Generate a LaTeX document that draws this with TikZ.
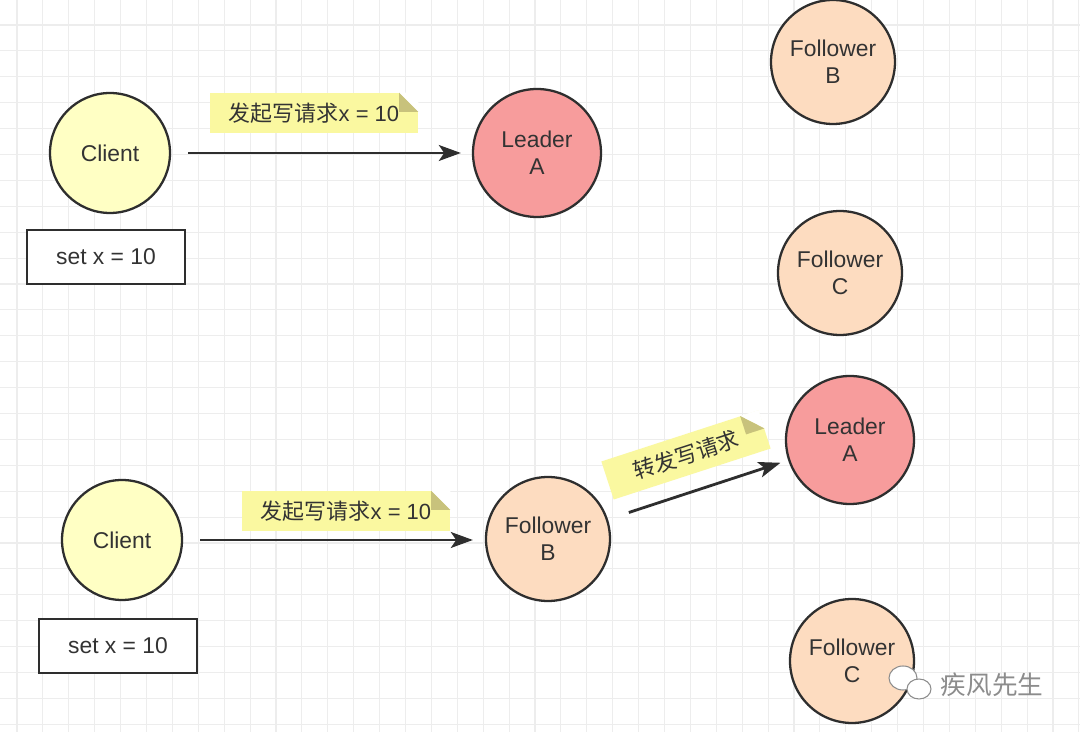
\documentclass[tikz,border=0pt]{standalone}
\usepackage{fontspec}
\setmainfont{Liberation Sans}
\newfontfamily\cjk{Noto Sans CJK SC}
\usepackage{xcolor}
\usetikzlibrary{calc, arrows.meta}

\definecolor{clientyellow}{HTML}{FFFFC4}
\definecolor{leaderred}{HTML}{F79C9C}
\definecolor{followerpeach}{HTML}{FDDCC0}
\definecolor{noteyellow}{HTML}{FAF8A0}
\definecolor{notefold}{HTML}{C8C27C}
\definecolor{inkdark}{HTML}{2E2E2E}
\definecolor{textdark}{HTML}{333333}
\definecolor{gridgray}{HTML}{EDEDED}
\definecolor{markgray}{HTML}{8C8C8C}

\tikzset{
  server/.style={circle, draw=inkdark, line width=1.3pt, text=textdark,
    align=center, inner sep=0pt, font=\fontsize{13}{15.5}\selectfont},
  client/.style={server, fill=clientyellow, minimum size=2.4cm},
  leader/.style={server, fill=leaderred, minimum size=2.56cm},
  follower/.style={server, fill=followerpeach, minimum size=2.48cm},
  valuebox/.style={draw=inkdark, line width=1.4pt, fill=white, text=textdark,
    minimum width=3.16cm, minimum height=1.08cm, font=\fontsize{13}{15.5}\selectfont},
  note/.style={fill=noteyellow, text=textdark, inner sep=0pt,
    minimum height=0.8cm, font=\fontsize{12.5}{15}\selectfont},
  request/.style={draw=inkdark, line width=1.6pt,
    -{Stealth[length=12.5pt, width=9pt, inset=3pt]}},
  gridline/.style={draw=gridgray, line width=0.6pt},
}

% folded top right corner of a note
\newcommand{\foldcorner}[1]{%
  \coordinate (#1-a) at ($(#1.north east)!11pt!(#1.north west)$);
  \coordinate (#1-b) at ($(#1.north east)!11pt!(#1.south east)$);
  \fill[white] (#1-a) -- (#1.north east) -- (#1-b) -- cycle;
  \fill[notefold] (#1-a) -- (#1-b) -- ($(#1-a)!11pt!-90:(#1.north east)$) -- cycle;
}

\begin{document}
\begin{tikzpicture}[x=0.02cm, y=-0.02cm]

    % =================================================================
    % 1. BACKGROUND AND GRID
    % =================================================================
    \useasboundingbox (0,0) rectangle (1080,732);
    \fill[white] (0,0) rectangle (1080,732);
    \foreach \gx in {0,...,41} \draw[gridline] ({17+\gx*25.9},0) -- ({17+\gx*25.9},732);
    \foreach \gy in {0,...,27} \draw[gridline] (0,{25+\gy*25.9}) -- (1080,{25+\gy*25.9});

    % =================================================================
    % 2. UPPER CASE: CLIENT WRITES TO THE LEADER
    % =================================================================
    \node[client] (client1) at (110,153) {Client};
    \node[valuebox] (set1) at (106,257) {set x = 10};
    \node[leader] (leader1) at (537,153) {Leader\\A};
    \node[follower] (followerB1) at (833,62) {Follower\\B};
    \node[follower] (followerC1) at (840,273) {Follower\\C};

    \draw[request, shorten <=0.34cm, shorten >=0.22cm] (client1) -- (leader1);
    \node[note, minimum width=4.16cm] (note1) at (314,113) {{\cjk 发起写请求}x = 10};
    \foldcorner{note1}

    % =================================================================
    % 3. LOWER CASE: FOLLOWER FORWARDS THE WRITE
    % =================================================================
    \node[client] (client2) at (122,540) {Client};
    \node[valuebox] (set2) at (118,646) {set x = 10};
    \node[follower] (followerB2) at (548,539) {Follower\\B};
    \node[leader] (leader2) at (850,440) {Leader\\A};
    \node[follower] (followerC2) at (852,661) {Follower\\C};

    \draw[request, shorten <=0.34cm, shorten >=0.24cm]
        (client2.east) -- (followerB2.west |- client2.east);
    \node[note, minimum width=4.16cm] (note2) at (346,511) {{\cjk 发起写请求}x = 10};
    \foldcorner{note2}

    \draw[request, shorten <=0.44cm, shorten >=0.16cm] (followerB2) -- (leader2);
    \node[note, minimum width=3.3cm, rotate=18] (note3) at (686,455) {\cjk 转发写请求};
    \foldcorner{note3}

    % =================================================================
    % 4. WATERMARK
    % =================================================================
    \draw[markgray, fill=white, line width=0.6pt] (903,678) ellipse (14 and 12);
    \draw[markgray, fill=white, line width=0.6pt] (919,689) ellipse (12 and 10);
    \node[text=markgray, font=\cjk\fontsize{14.6}{16}\selectfont] (mark) at (992,685) {疾风先生};

\end{tikzpicture}
\end{document}
